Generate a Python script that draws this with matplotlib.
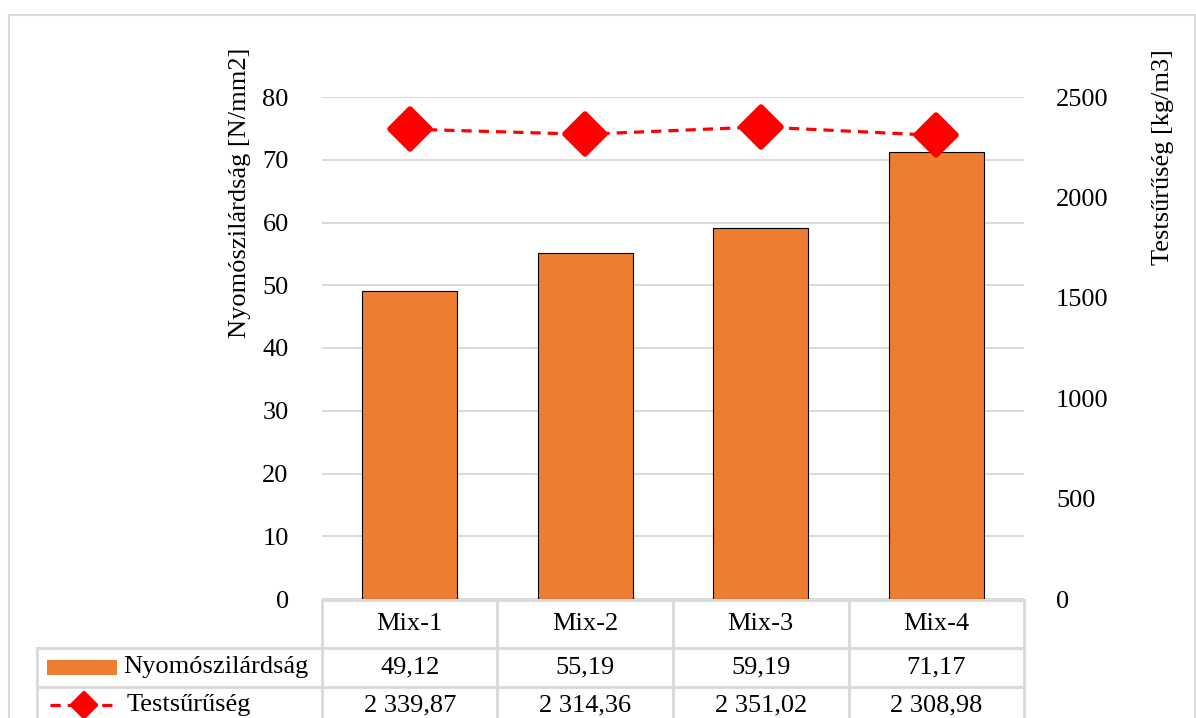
import matplotlib
matplotlib.use("Agg")
import matplotlib.pyplot as plt
from matplotlib.markers import MarkerStyle
from matplotlib.lines import Line2D
from matplotlib.patches import Rectangle

# ---- data ----
categories = ["Mix-1", "Mix-2", "Mix-3", "Mix-4"]
strength = [49.12, 55.19, 59.19, 71.17]          # N/mm2
density = [2339.87, 2314.36, 2351.02, 2308.98]   # kg/m3
left_ticks = [0, 10, 20, 30, 40, 50, 60, 70, 80]
right_ticks = [0, 500, 1000, 1500, 2000, 2500]
series_names = ["Nyomószilárdság", "Testsűrűség"]
left_title = "Nyomószilárdság [N/mm2]"
right_title = "Testsűrűség [kg/m3]"

plt.rcParams["font.family"] = ["Liberation Serif", "DejaVu Serif"]
FS = 19
ORANGE = "#ED7D31"
RED = "#FF0000"
GRID = "#D9D9D9"

W, H = 1196, 718
fig = plt.figure(figsize=(W / 100, H / 100), dpi=100)


def fx(x):
    return x / W


def fy(y):
    return 1 - y / H


def hu(v):
    """Hungarian number format: space as thousands separator, comma decimal."""
    s = f"{v:,.2f}"
    return s.replace(",", " ").replace(".", ",")


# plot area
L, R, T, B = 322, 1024, 97, 599
ax = fig.add_axes([fx(L), fy(B), fx(R - L), (B - T) / H])
x = list(range(len(categories)))
ax.bar(x, strength, width=0.54, color=ORANGE, edgecolor="black", linewidth=0.8, zorder=3)
ax.set_xlim(-0.5, len(categories) - 0.5)
ax.set_ylim(left_ticks[0], left_ticks[-1])
ax.set_yticks(left_ticks)
ax.set_xticks([])
ax.grid(axis="y", color=GRID, linewidth=1.4, zorder=0)
ax.tick_params(axis="y", length=0, pad=24, labelsize=FS)
for s in ax.spines.values():
    s.set_visible(False)

diamond = MarkerStyle("D", joinstyle="round")
ax2 = ax.twinx()
ax2.plot(x, density, color=RED, linewidth=2.3, linestyle=(0, (3.2, 2.2)), zorder=4,
         marker=diamond, markersize=20,
         markerfacecolor=RED, markeredgecolor=RED, markeredgewidth=4)
ax2.set_ylim(right_ticks[0], right_ticks[-1])
ax2.set_yticks(right_ticks)
ax2.tick_params(axis="y", length=0, pad=23, labelsize=FS)
for s in ax2.spines.values():
    s.set_visible(False)
ax2.set_xlim(ax.get_xlim())

# axis titles
fig.text(fx(240), fy(193), left_title, rotation=90, ha="center", va="center", fontsize=FS)
fig.text(fx(1163), fy(157), right_title, rotation=90, ha="center", va="center", fontsize=FS)

# outer chart frame
fig.add_artist(Rectangle((fx(9), fy(740)), fx(1186), (740 - 15) / H, transform=fig.transFigure,
                         fill=False, edgecolor=GRID, linewidth=1.5, clip_on=False))

# ---- data table ----
col_edges = [L + i * (R - L) / len(categories) for i in range(len(categories) + 1)]
row_edges = [600, 648, 687, 740]
label_left = 37


def hline(y, x0, x1):
    fig.add_artist(Line2D([fx(x0), fx(x1)], [fy(y), fy(y)], color=GRID, linewidth=2))


def vline(xp, y0, y1):
    fig.add_artist(Line2D([fx(xp), fx(xp)], [fy(y0), fy(y1)], color=GRID, linewidth=2))


hline(row_edges[0], L, R)
hline(row_edges[1], label_left, R)
hline(row_edges[2], label_left, R)
for xp in col_edges:
    vline(xp, row_edges[0], row_edges[3])
vline(label_left, row_edges[1], row_edges[3])

row_mid = [(row_edges[i] + row_edges[i + 1]) / 2 for i in range(2)] + [705]
for i, cat in enumerate(categories):
    cx = (col_edges[i] + col_edges[i + 1]) / 2
    fig.text(fx(cx), fy(row_mid[0]), cat, ha="center", va="center", fontsize=FS)
    fig.text(fx(cx), fy(row_mid[1]), hu(strength[i]), ha="center", va="center", fontsize=FS)
    fig.text(fx(cx), fy(row_mid[2]), hu(density[i]), ha="center", va="center", fontsize=FS)

# legend keys inside the table
fig.add_artist(Rectangle((fx(47), fy(675)), fx(70), 15 / H, transform=fig.transFigure,
                         facecolor=ORANGE, edgecolor="none"))
fig.text(fx(123), fy(row_mid[1]), series_names[0], ha="left", va="center", fontsize=FS)
fig.add_artist(Line2D([fx(50), fx(116)], [fy(row_mid[2]), fy(row_mid[2])], color=RED,
                      linewidth=2.3, linestyle=(0, (3.2, 2.2))))
fig.add_artist(Line2D([fx(84)], [fy(row_mid[2])], color=RED, linestyle="none",
                      marker=diamond, markersize=12, markeredgewidth=3,
                      markerfacecolor=RED, markeredgecolor=RED))
fig.text(fx(127), fy(row_mid[2]), series_names[1], ha="left", va="center", fontsize=FS)

fig.savefig("out.png", dpi=100, facecolor="white")
